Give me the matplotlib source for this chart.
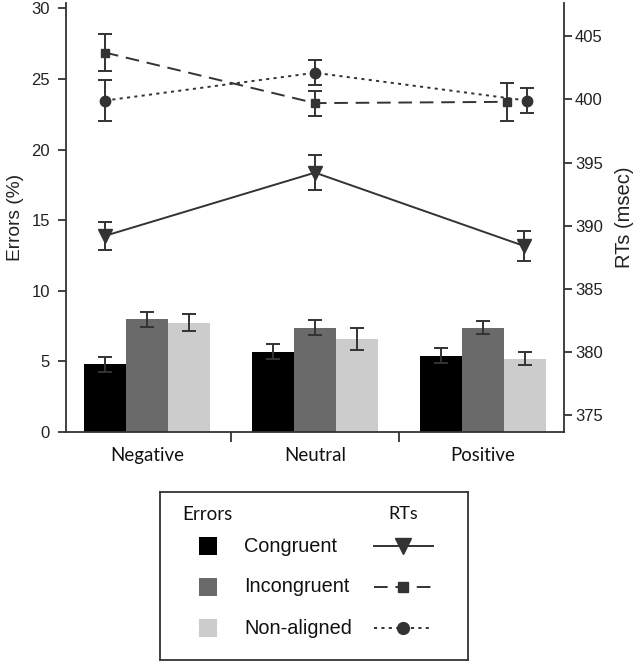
import matplotlib
matplotlib.use("Agg")
import matplotlib.pyplot as plt
import numpy as np
from matplotlib.lines import Line2D
from matplotlib.patches import Rectangle

# ---------------- data ----------------
categories = ["Negative", "Neutral", "Positive"]
conditions = ["Congruent", "Incongruent", "Non-aligned"]

# Errors (%) - bars (left axis)
err_congruent = [4.8, 5.7, 5.4]
err_incongruent = [8.0, 7.4, 7.4]
err_nonaligned = [7.75, 6.6, 5.2]
err_congruent_se = [0.53, 0.5, 0.53]
err_incongruent_se = [0.53, 0.5, 0.46]
err_nonaligned_se = [0.61, 0.8, 0.44]

# RTs (msec) - lines (right axis)
rt_congruent = [389.2, 394.2, 388.4]
rt_incongruent = [403.7, 399.7, 399.8]
rt_nonaligned = [399.9, 402.1, 399.9]
rt_congruent_se = [1.12, 1.37, 1.2]
rt_incongruent_se = [1.46, 0.99, 1.52]
rt_nonaligned_se = [1.6, 0.98, 0.97]

# horizontal placement of the RT points relative to each category centre
rt_congruent_dx = [-0.25, 0.0, 0.244]
rt_incongruent_dx = [-0.25, 0.0, 0.143]
rt_nonaligned_dx = [-0.25, 0.0, 0.262]

left_ticks = [0, 5, 10, 15, 20, 25, 30]
right_ticks = [375, 380, 385, 390, 395, 400, 405]

# ---------------- figure ----------------
W, H = 638, 662
fig = plt.figure(figsize=(W / 100, H / 100), dpi=100)

ax_l, ax_r_px, ax_b, ax_t = 66, 564, 432, 3
ax = fig.add_axes([ax_l / W, 1 - ax_b / H, (ax_r_px - ax_l) / W, (ax_b - ax_t) / H])
ax2 = ax.twinx()

spine_c = "#333333"
dark = "#333333"
bar_colors = ["#000000", "#6a6a6a", "#cccccc"]
bw = 0.25
x = np.arange(len(categories))

bar_vals = [err_congruent, err_incongruent, err_nonaligned]
bar_ses = [err_congruent_se, err_incongruent_se, err_nonaligned_se]
for i, (vals, ses) in enumerate(zip(bar_vals, bar_ses)):
    xs = x + (i - 1) * bw
    ax.bar(xs, vals, width=bw, color=bar_colors[i], edgecolor="none", zorder=2)
    ax.errorbar(xs, vals, yerr=ses, fmt="none", ecolor=dark, elinewidth=1.4,
                capsize=5, capthick=1.4, zorder=3)

ax.set_xlim(-81 / 168, 2 + 81 / 168)
ax.set_ylim(0, 30.38)
ax2.set_ylim(373.68, 407.62)

rt_vals = [rt_congruent, rt_incongruent, rt_nonaligned]
rt_ses = [rt_congruent_se, rt_incongruent_se, rt_nonaligned_se]
rt_dx = [rt_congruent_dx, rt_incongruent_dx, rt_nonaligned_dx]
markers = ["v", "s", "o"]
msizes = [10.5, 5.5, 7.5]
styles = ["-", (0, (7, 4)), (0, (1.6, 2.2))]
for vals, ses, dx, m, ms, ls in zip(rt_vals, rt_ses, rt_dx, markers, msizes, styles):
    xs = x + np.array(dx)
    ax2.plot(xs, vals, color=dark, linestyle=ls, linewidth=1.4, marker=m,
             markersize=ms, markerfacecolor=dark, markeredgecolor=dark, zorder=4)
    ax2.errorbar(xs, vals, yerr=ses, fmt="none", ecolor=dark, elinewidth=1.4,
                 capsize=5, capthick=1.4, zorder=4)

# axes styling
for a in (ax, ax2):
    a.spines["top"].set_visible(False)
    for s in ("left", "right", "bottom"):
        a.spines[s].set_color(spine_c)
        a.spines[s].set_linewidth(1.3)
ax.spines["right"].set_visible(False)
ax2.spines["left"].set_visible(False)
ax2.spines["bottom"].set_visible(False)

tick_font = {"family": "Liberation Sans", "size": 12}
ax.set_yticks(left_ticks)
ax.set_yticklabels([str(t) for t in left_ticks], fontdict=tick_font, color="#222222")
ax2.set_yticks(right_ticks)
ax2.set_yticklabels([str(t) for t in right_ticks], fontdict=tick_font, color="#222222")
ax.tick_params(axis="y", direction="out", length=6, width=1.3, color=spine_c, pad=5.5)
ax2.tick_params(axis="y", direction="out", length=6, width=1.3, color=spine_c, pad=2)

# x-axis: ticks between groups, labels at centres
ax.set_xticks([0.5, 1.5])
ax.set_xticklabels(["", ""])
ax.tick_params(axis="x", direction="out", length=7, width=1.3, color=spine_c)
for xi, lab in zip(x, categories):
    ax.text(xi, -0.036, lab, transform=ax.get_xaxis_transform(), ha="center", va="top",
            fontsize=13.4, family="Lato", color="#111111")

ax.set_ylabel("Errors (%)", fontsize=13.8, family="Liberation Sans", color="#222222", labelpad=5)
ax2.set_ylabel("RTs (msec)", fontsize=14.5, family="Liberation Sans", color="#222222", labelpad=9)

# ---------------- legend ----------------
lx0, ly0, lx1, ly1 = 160, 492, 468, 660
lax = fig.add_axes([lx0 / W, 1 - ly1 / H, (lx1 - lx0) / W, (ly1 - ly0) / H])
lax.set_xlim(lx0, lx1)
lax.set_ylim(ly1, ly0)
lax.set_xticks([])
lax.set_yticks([])
for s in lax.spines.values():
    s.set_color(spine_c)
    s.set_linewidth(1.3)

lax.text(207, 514, "Errors", ha="center", va="center", family="Lato", fontsize=13.5, color="#111111")
lax.text(403, 514, "RTs", ha="center", va="center", family="Lato", fontsize=13, color="#111111")
rows_y = [546, 587, 628]
for i, (lab, yy) in enumerate(zip(conditions, rows_y)):
    lax.add_patch(Rectangle((208 - 9, yy - 9), 18, 18, facecolor=bar_colors[i], edgecolor="none"))
    lax.text(244, yy, lab, ha="left", va="center", family="Liberation Sans", fontsize=14.3,
             color="#111111")
    lax.add_line(Line2D([374, 433], [yy, yy], color=dark, linestyle=styles[i], linewidth=1.4))
    lax.add_line(Line2D([403], [yy], color=dark, marker=markers[i], markersize=msizes[i] + 1,
                        markerfacecolor=dark, markeredgecolor=dark, linestyle="none"))

fig.savefig("out.png", dpi=100)
